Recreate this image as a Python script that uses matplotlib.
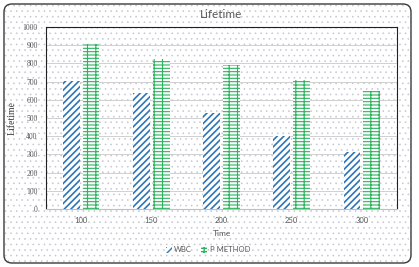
import numpy as np
import matplotlib
matplotlib.use("Agg")
import matplotlib.pyplot as plt
from matplotlib.patches import FancyBboxPatch, Patch

# data
categories = ["100", "150", "200", "250", "300"]
wbc = [705, 640, 530, 400, 315]
p_method = [905, 825, 790, 710, 648]
yticks = [0, 100, 200, 300, 400, 500, 600, 700, 800, 900, 1000]

blue = "#2E75B6"
green = "#2BB35E"
grey_txt = "#595959"

fig = plt.figure(figsize=(4.19, 2.67), dpi=100)

# dotted chart background + rounded border
with plt.rc_context({"hatch.linewidth": 0.4}):
    dots = FancyBboxPatch((0.04, 0.04), 4.07, 2.59, boxstyle="round,pad=0,rounding_size=0.08",
                          transform=fig.dpi_scale_trans, facecolor="white",
                          edgecolor="#c2c6d0", hatch="...", lw=0, zorder=-5)
fig.patches.append(dots)
border = FancyBboxPatch((0.04, 0.04), 4.07, 2.59, boxstyle="round,pad=0,rounding_size=0.08",
                        transform=fig.dpi_scale_trans, facecolor="none",
                        edgecolor="#3a3a3a", lw=1.0, zorder=5)
fig.patches.append(border)

ax = fig.add_axes([46 / 419, 58 / 267, 351 / 419, 182 / 267])
ax.set_facecolor("none")

x = np.arange(len(categories))
w = 0.24
with plt.rc_context({"hatch.linewidth": 1.2}):
    ax.bar(x - 0.14, wbc, w, facecolor="white", edgecolor=blue, hatch="/////", lw=0, zorder=3)
    h_wbc = Patch(facecolor="white", edgecolor=blue, hatch="/////", lw=0)
with plt.rc_context({"hatch.linewidth": 0.8}):
    ax.bar(x + 0.14, p_method, w, facecolor="white", edgecolor=green, hatch="-----||", lw=0, zorder=3)
    h_pm = Patch(facecolor="white", edgecolor=green, hatch="-----||", lw=0)

ax.set_xlim(-0.5, len(categories) - 0.5)
ax.set_ylim(0, 1000)
ax.set_yticks(yticks)
ax.set_xticks(x)
ax.set_xticklabels(categories, fontfamily="Lato", fontsize=5.5, color=grey_txt)
ax.set_yticklabels([str(v) for v in yticks], fontfamily="Liberation Serif", fontsize=5.5, color=grey_txt)
ax.tick_params(length=0, pad=6)
ax.yaxis.grid(True, color="#d0d0d0", lw=0.7, zorder=1)
ax.set_axisbelow(True)

for s in ["top", "left", "right"]:
    ax.spines[s].set_color("#202020")
    ax.spines[s].set_linewidth(0.8)
ax.spines["bottom"].set_color("#bfbfbf")
ax.spines["bottom"].set_linewidth(0.8)

ax.set_ylabel("Lifetime", fontfamily="Liberation Serif", fontsize=7, color="#404040", labelpad=4)
ax.set_xlabel("Time", fontfamily="Lato", fontsize=6, color=grey_txt, labelpad=4)
fig.text(221 / 419, 1 - 14 / 267, "Lifetime", ha="center", va="center",
         fontfamily="Lato", fontsize=8.5, color=grey_txt)

fig.legend([h_wbc, h_pm], ["WBC", "P METHOD"], loc="center", bbox_to_anchor=(208 / 419, 17 / 267),
           ncol=2, frameon=False, handlelength=0.8, handleheight=0.8,
           handletextpad=0.3, columnspacing=1.2, prop={"family": "Lato", "size": 5.5},
           labelcolor=grey_txt)

fig.savefig("out.png", dpi=100)
